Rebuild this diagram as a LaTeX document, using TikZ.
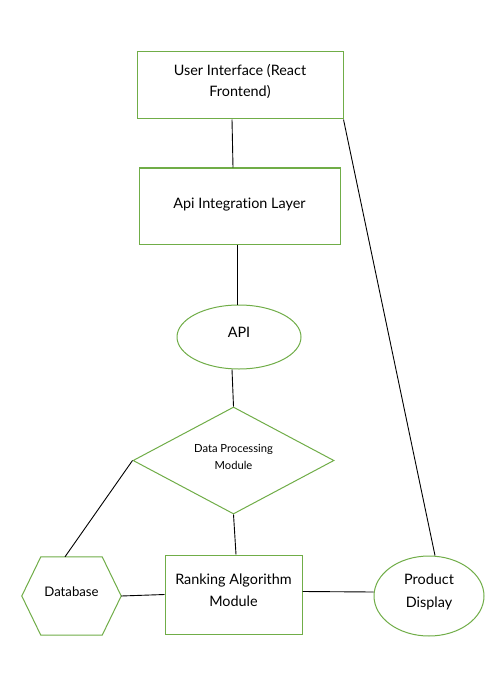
\documentclass[tikz,border=0pt]{standalone}
\usepackage{fontspec}
\setmainfont{Lato}[Ligatures=NoCommon]
\usetikzlibrary{shapes.geometric}
\definecolor{boxgreen}{RGB}{112,173,71}
\newcommand\txtlines[2]{\raisebox{#1}[0pt][0pt]{\begin{tabular}[b]{@{}c@{}}#2\end{tabular}}}
\begin{document}
\begin{tikzpicture}[x=1pt,y=-1pt,
  shp/.style={draw=boxgreen,line width=1pt,inner sep=0pt,align=center,font=\fontsize{14.4}{21}\selectfont},
  rbox/.style={shp,rectangle},
  ell/.style={shp,ellipse},
  dia/.style={shp,diamond},
  conn/.style={draw=black,line width=0.9pt}]
\useasboundingbox[fill=white] (0,0) rectangle (491,695);
\node[rbox,minimum width=206,minimum height=67] (ui) at (240,85.5) {\txtlines{-11.2pt}{User Interface (React\\Frontend)}};
\node[rbox,minimum width=201,minimum height=76] (ail) at (239.5,206) {\txtlines{-2pt}{Api Integration Layer}};
\node[ell,minimum width=124,minimum height=64] (api) at (239,337) {\txtlines{0pt}{API}};
\node[dia,minimum width=201,minimum height=107,font=\fontsize{11.2}{17}\selectfont] (dpm) at (233.5,460.5) {\txtlines{-8.5pt}{Data Processing\\Module}};
\node[minimum width=99,minimum height=78,inner sep=0pt,font=\fontsize{13.2}{20}\selectfont] (db) at (71.5,596) {\txtlines{0pt}{Database}};
\draw[draw=boxgreen,line width=1pt] (db.west) -- ([xshift=19]db.north west) -- ([xshift=-19]db.north east) -- (db.east) -- ([xshift=-19]db.south east) -- ([xshift=19]db.south west) -- cycle;
\node[rbox,minimum width=137,minimum height=79,font=\fontsize{14.4}{21.5}\selectfont] (rank) at (233.5,594.5) {\txtlines{-11.5pt}{Ranking Algorithm\\Module}};
\node[ell,minimum width=110,minimum height=80,font=\fontsize{14.4}{23}\selectfont] (prod) at (429,596) {\txtlines{-11pt}{Product\\Display}};
\draw[conn] ([xshift=-8]ui.south) -- ([xshift=-6.5]ail.north);
\draw[conn] ([xshift=-2.5]ail.south) -- ([xshift=-2]api.north);
\draw[conn] ([xshift=-7]api.south) -- (dpm.north);
\draw[conn] (dpm.south) -- ([xshift=2.5]rank.north);
\draw[conn] (dpm.west) -- ([xshift=-6.5]db.north);
\draw[conn] (db.east) -- (rank.west);
\draw[conn] ([yshift=3]rank.east) -- ([yshift=4]prod.west);
\draw[conn] (ui.south east) -- ([xshift=6]prod.north);
\end{tikzpicture}
\end{document}
